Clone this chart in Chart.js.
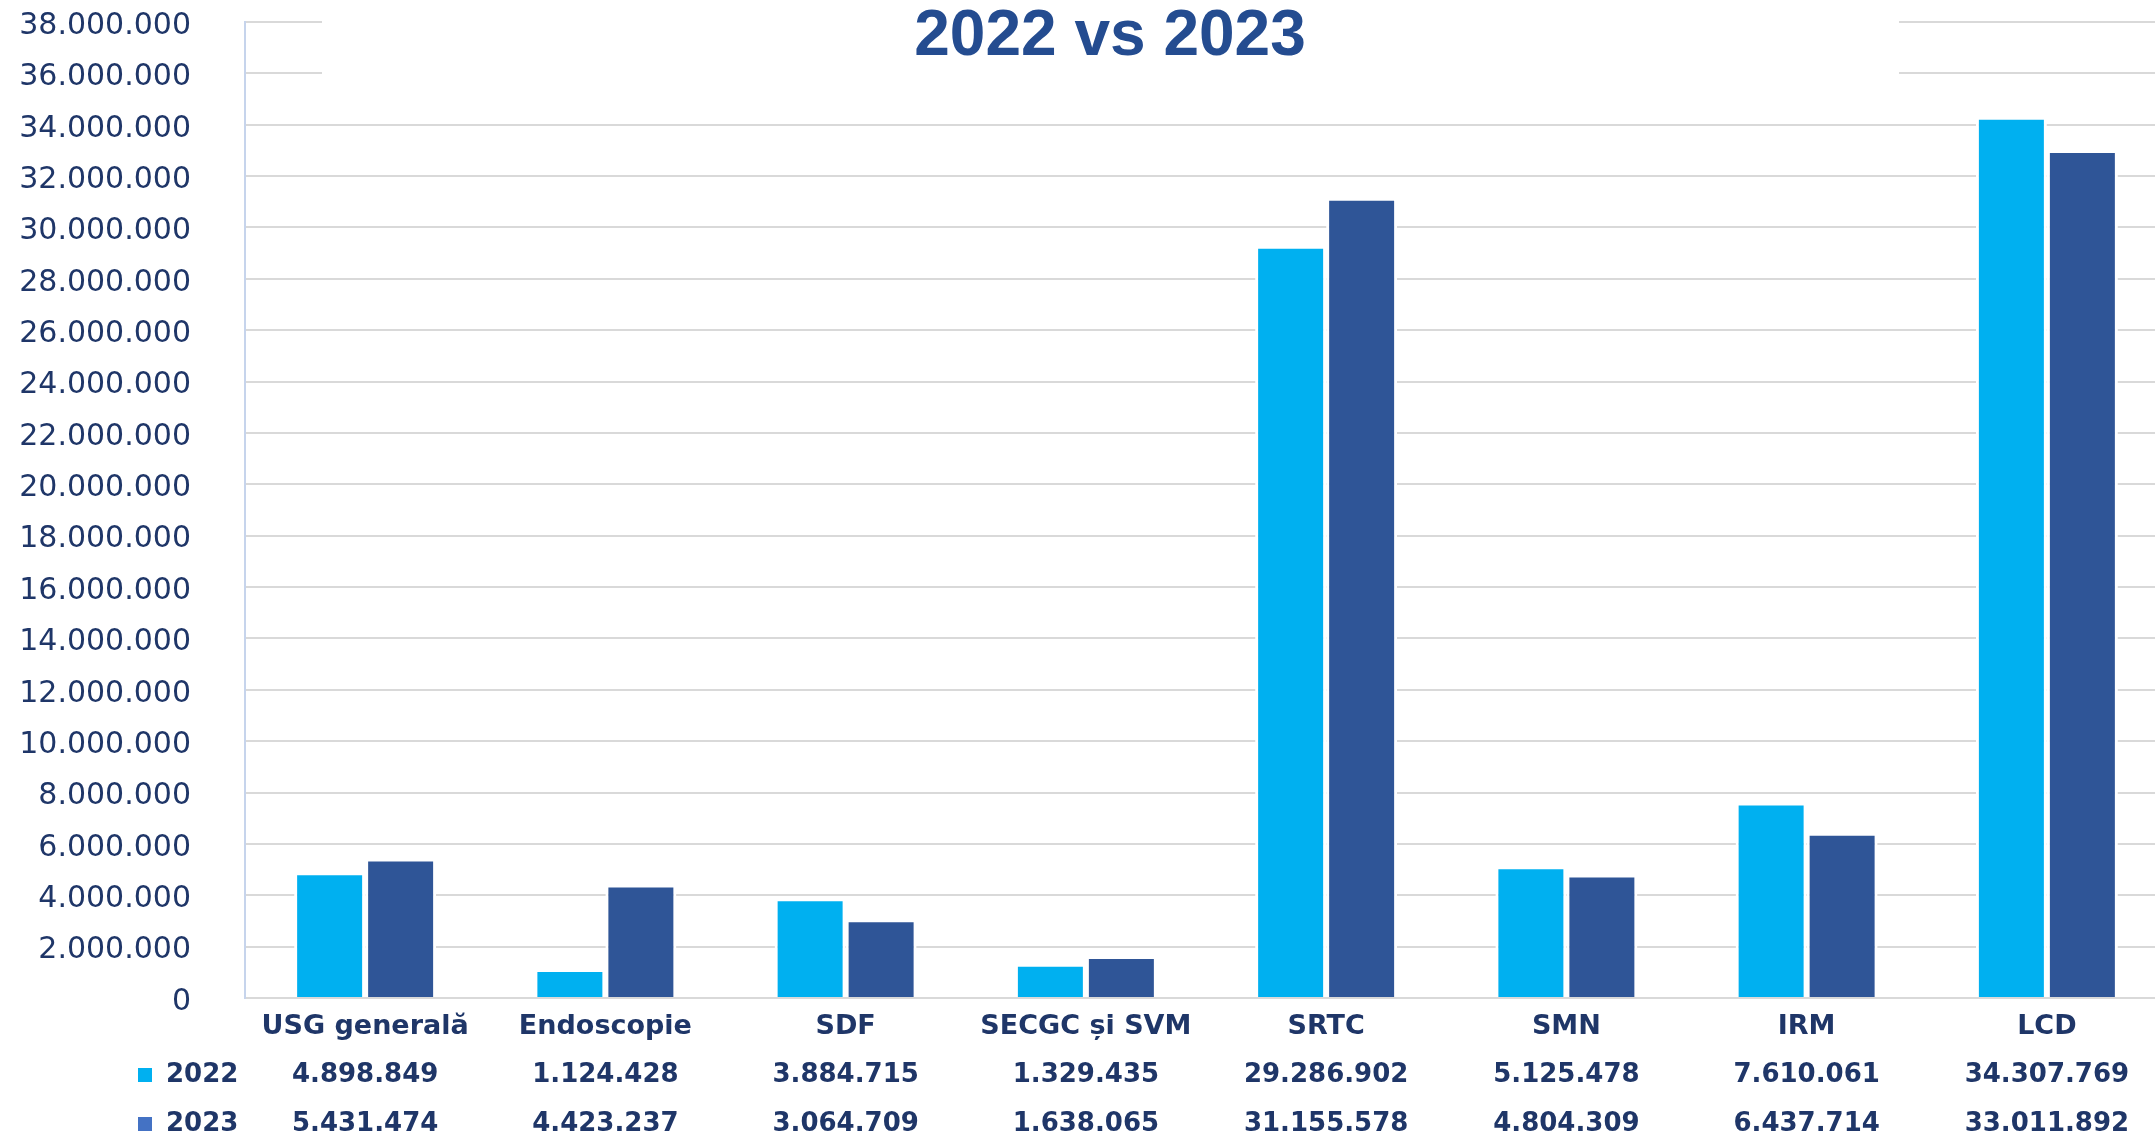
<!DOCTYPE html>
<html>
<head>
<meta charset="utf-8">
<script src="https://cdn.jsdelivr.net/npm/chart.js@4"></script>
<style>
  html, body { margin: 0; padding: 0; background: #fff; overflow: hidden; }
  #wrap { width: 2155px; height: 1138px; overflow: hidden; }
</style>
</head>
<body>
<div id="wrap"><canvas id="chart" width="2167" height="1138"></canvas></div>
<script>
// --- data ---
const categories = ['USG generală', 'Endoscopie', 'SDF', 'SECGC și SVM', 'SRTC', 'SMN', 'IRM', 'LCD'];
const seriesNames = ['2022', '2023'];
const values2022 = [4898849, 1124428, 3884715, 1329435, 29286902, 5125478, 7610061, 34307769];
const values2023 = [5431474, 4423237, 3064709, 1638065, 31155578, 4804309, 6437714, 33011892];
const titleText = '2022 vs 2023';
const yMax = 38000000;
const yStep = 2000000;

// colours
const barColors = ['#00b0f0', '#2f5597'];
const keyColors = ['#00b0f0', '#4472c4'];
const textColor = '#1f3668';

// 38000000 -> "38.000.000"
function dots(n) {
    return String(n).replace(/\B(?=(\d{3})+(?!\d))/g, '.');
}

// title box + data table under the axis
const tablePlugin = {
    id: 'dataTable',
    beforeDatasetsDraw(chart) {
        // the title sits in a white box that hides the top gridlines
        const ctx = chart.ctx;
        ctx.save();
        ctx.fillStyle = '#ffffff';
        ctx.fillRect(322, 0, 1577, 100);
        ctx.restore();
    },
    afterDraw(chart) {
        const ctx = chart.ctx;
        const x = chart.scales.x;
        ctx.save();

        // title
        ctx.fillStyle = '#244c90';
        ctx.font = 'bold 64px "Liberation Sans", Arial, sans-serif';
        ctx.textAlign = 'center';
        ctx.textBaseline = 'alphabetic';
        ctx.fillText(titleText, 1110, 55);

        // table rows
        const rows = [values2022, values2023];
        const rowY = [1075, 1124];
        ctx.textBaseline = 'middle';
        ctx.font = 'bold 26px "DejaVu Sans", sans-serif';
        rows.forEach((vals, r) => {
            ctx.fillStyle = keyColors[r];
            ctx.fillRect(138, rowY[r] - 7, 14, 14);
            ctx.fillStyle = textColor;
            ctx.textAlign = 'left';
            ctx.fillText(seriesNames[r], 166, rowY[r]);
            ctx.textAlign = 'center';
            vals.forEach((v, i) => {
                ctx.fillText(dots(v), x.getPixelForValue(i), rowY[r]);
            });
        });
        ctx.restore();
    }
};

new Chart(document.getElementById('chart'), {
    type: 'bar',
    data: {
        labels: categories,
        datasets: [
            { label: seriesNames[0], data: values2022, backgroundColor: barColors[0] },
            { label: seriesNames[1], data: values2023, backgroundColor: barColors[1] }
        ]
    },
    options: {
        responsive: false,
        animation: false,
        layout: { autoPadding: false, padding: { top: 22, right: 0, bottom: 0, left: 0 } },
        datasets: {
            bar: {
                categoryPercentage: 0.591,
                barPercentage: 1.0,
                borderColor: '#ffffff',
                borderWidth: 3,
                borderSkipped: 'bottom'
            }
        },
        plugins: {
            legend: { display: false },
            title: { display: false },
            tooltip: { enabled: false }
        },
        scales: {
            x: {
                grid: { display: false, drawTicks: false },
                border: { color: '#d9d9d9', width: 2 },
                ticks: {
                    color: textColor,
                    font: { family: '"DejaVu Sans", sans-serif', size: 27, weight: 'bold' },
                    padding: 13,
                    maxRotation: 0,
                    autoSkip: false
                },
                afterFit: s => { s.height = 140; }
            },
            y: {
                min: 0,
                max: yMax,
                ticks: {
                    stepSize: yStep,
                    color: textColor,
                    font: { family: '"DejaVu Sans", sans-serif', size: 30 },
                    padding: 54,
                    labelOffset: 4,
                    callback: v => dots(v)
                },
                grid: { color: '#d9d9d9', lineWidth: 2, drawTicks: false },
                border: { color: '#c6d4ec', width: 2 },
                afterFit: s => { s.width = 245; s.paddingTop = 0; s.paddingBottom = 0; }
            }
        }
    },
    plugins: [tablePlugin]
});
</script>
</body>
</html>
